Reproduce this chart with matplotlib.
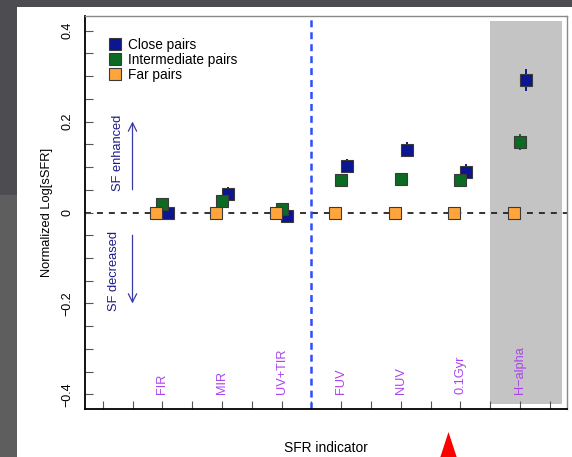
import matplotlib
matplotlib.use('Agg')
import matplotlib.pyplot as plt
import numpy as np
from matplotlib.patches import Rectangle, Polygon
from matplotlib.lines import Line2D

plt.rcParams['font.family'] = ['Liberation Sans', 'DejaVu Sans']
plt.rcParams['lines.scale_dashes'] = False

# data
indicators = ['FIR', 'MIR', 'UV+TIR', 'FUV', 'NUV', '0.1Gyr', 'H\u2212alpha']
close_vals = [0.000, 0.040, -0.007, 0.102, 0.138, 0.090, 0.291]
close_errs = [0.014, 0.015, 0.015, 0.016, 0.016, 0.017, 0.024]
inter_vals = [0.018, 0.026, 0.007, 0.071, 0.074, 0.072, 0.155]
inter_errs = [0.010, 0.010, 0.010, 0.010, 0.010, 0.010, 0.017]
far_vals = [0.0, 0.0, 0.0, 0.0, 0.0, 0.0, 0.0]
far_errs = [0.006, 0.006, 0.006, 0.006, 0.006, 0.006, 0.012]
series_names = ['Close pairs', 'Intermediate pairs', 'Far pairs']
series_colors = ['#0b1690', '#0c6a22', '#ffa53c']

W, H = 572, 457
fig = plt.figure(figsize=(W / 100, H / 100), dpi=100)
fig.patch.set_facecolor('#4c4c51')


def px(x, y):
    return (x / W, 1 - y / H)


# slide background pieces (behind the axes)
fig.patches.append(Rectangle((17 / W, 0), 1 - 17 / W, 1 - 7 / H, transform=fig.transFigure,
                             facecolor='white', edgecolor='none', zorder=-2))
fig.patches.append(Rectangle((0, 0), 17 / W, 1 - 195 / H, transform=fig.transFigure,
                             facecolor='#5e5e5e', edgecolor='none', zorder=-2))

ax = fig.add_axes([85 / W, 1 - 409 / H, 482 / W, 393 / H])
ax.set_facecolor('white')

xpos = np.arange(1, len(indicators) + 1)
ax.set_xlim(-0.297, 7.79)
ax.set_ylim(-0.432, 0.432)

# H-alpha box
ax.add_patch(Rectangle((6.5, -0.421), 1.2, 0.843, facecolor='#c4c4c4', edgecolor='none', zorder=0.5))
ax.axhline(0, color='#222222', lw=1.3, dashes=(4.3, 4.3), zorder=1)
ax.axvline(3.5, color='#2f4dff', lw=1.8, dashes=(5, 3.6), zorder=1)

groups = [
    (close_vals, close_errs, series_colors[0], 0.1, 3),
    (inter_vals, inter_errs, series_colors[1], 0.0, 4),
    (far_vals, far_errs, series_colors[2], -0.1, 5),
]
for vals, errs, col, off, z in groups:
    ax.errorbar(xpos + off, vals, yerr=errs, fmt='s', ms=8.8, mfc=col, mec='#3a3a3a', mew=0.8,
                ecolor=col, elinewidth=1.4, capsize=0, zorder=z)

for x, name in zip(xpos, indicators):
    ax.text(x, -0.4, name, rotation=90, ha='center', va='bottom', color='#ab44ec', fontsize=9.2)

# ticks
ax.set_yticks([-0.4, -0.2, 0, 0.2, 0.4])
ax.set_yticklabels(['\u22120.4', '\u22120.2', '0', '0.2', '0.4'], rotation=90, va='center')
ax.set_yticks(np.arange(-0.4, 0.41, 0.05), minor=True)
ax.tick_params(axis='y', which='both', direction='in', length=5.8, width=0.8, color='#555555',
               labelsize=9, pad=8.5)
ax.set_xticks(np.arange(0, 7.6, 0.5))
ax.set_xticklabels([])
ax.tick_params(axis='x', which='both', direction='in', length=5.8, width=0.8, color='#555555')

for s in ['left', 'bottom']:
    ax.spines[s].set_color('black')
    ax.spines[s].set_linewidth(1.3)
for s in ['top', 'right']:
    ax.spines[s].set_color('#8a8a8a')
    ax.spines[s].set_linewidth(1.0)

# SF arrows
arrow_kw = dict(arrowstyle='->,head_length=0.6,head_width=0.3', color='#3b3ba6', lw=0.9,
                shrinkA=0, shrinkB=0)
ax.annotate('', xy=(0.5, 0.2), xytext=(0.5, 0.05), arrowprops=arrow_kw)
ax.annotate('', xy=(0.5, -0.2), xytext=(0.5, -0.05), arrowprops=arrow_kw)
ax.text(0.25, 0.131, 'SF enhanced', rotation=90, ha='center', va='center', color='#1c1c8a', fontsize=9.3)
ax.text(0.19, -0.128, 'SF decreased', rotation=90, ha='center', va='center', color='#1c1c8a', fontsize=9.3)

handles = [Line2D([], [], ls='none', marker='s', ms=8.8, mfc=c, mec='#3a3a3a', mew=0.8)
           for c in series_colors]
ax.legend(handles, series_names, loc='upper left', bbox_to_anchor=(0.0477, 0.9435), frameon=False,
          fontsize=9.8, handlelength=1.0, handletextpad=0.45, labelspacing=0.05,
          borderpad=0, borderaxespad=0)

fig.text(*px(47, 212), 'Normalized Log[sSFR]', rotation=90, ha='center', va='center', fontsize=9.3)
fig.text(*px(326, 447.7), 'SFR indicator', ha='center', va='center', fontsize=9.9)

fig.patches.append(Polygon([px(440, 458), px(457, 458), px(448.5, 432)], closed=True,
                           transform=fig.transFigure, facecolor='#ff0000', edgecolor='none'))

fig.savefig('out.png', dpi=100)
